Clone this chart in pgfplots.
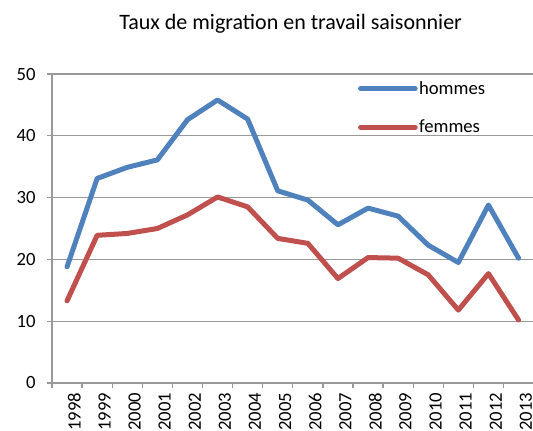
\documentclass[border=0pt]{standalone}
\usepackage{fontspec}
\setmainfont{Carlito}
\usepackage{pgfplots}
\pgfplotsset{compat=1.18}

\definecolor{hommesblue}{HTML}{4F81BD}
\definecolor{femmesred}{HTML}{C0504D}
\definecolor{gridgray}{HTML}{999999}

\begin{document}
\begin{tikzpicture}
\useasboundingbox (-39pt,-35.25pt) rectangle (360.75pt,287.25pt);
\clip (-39pt,-35.25pt) rectangle (360.75pt,287.25pt);
\begin{axis}[
at={(0,0)},anchor=south west,
scale only axis,width=361.2pt,height=231.75pt,
font=\fontsize{14}{16.5}\selectfont,
xmin=-0.5,xmax=15.5,ymin=0,ymax=50,
axis x line*=bottom,axis y line*=left,
axis line style={gridgray,line width=1pt},
tick style={gridgray,line width=1pt},
tick align=outside,major tick length=3.75pt,
ytick={0,10,...,50},
ymajorgrids,grid style={gridgray,line width=1pt},
xtick={-0.5,0.5,...,15.5},
x tick label as interval,
xticklabels={1998,1999,2000,2001,2002,2003,2004,2005,2006,2007,2008,2009,2010,2011,2012,2013},
xticklabel style={rotate=90,anchor=east,yshift=-5.5pt},
yticklabel style={xshift=-5pt},
/pgf/number format/assume math mode=true,
legend style={at={(rel axis cs:0.635,0.982)},anchor=north west,
  draw=none,fill=none,inner sep=0pt,row sep=15.75pt,
  legend cell align=left,
  nodes={inner sep=1pt}},
legend image code/.code={\draw[#1] (0pt,0pt) -- (41pt,0pt);},
every axis plot/.append style={line width=3.75pt,line cap=round,line join=round},
]
\addplot[hommesblue] coordinates {
(0,18.8) (1,33.1) (2,34.9) (3,36.1) (4,42.6) (5,45.8) (6,42.7) (7,31.1)
(8,29.6) (9,25.6) (10,28.3) (11,27.0) (12,22.3) (13,19.5) (14,28.8) (15,20.2)};
\addlegendentry{hommes}
\addplot[femmesred] coordinates {
(0,13.3) (1,23.9) (2,24.2) (3,25.0) (4,27.2) (5,30.1) (6,28.5) (7,23.4)
(8,22.6) (9,16.9) (10,20.3) (11,20.2) (12,17.5) (13,11.8) (14,17.7) (15,10.2)};
\addlegendentry{femmes}
\end{axis}
\node[anchor=base,font=\fontsize{16.5}{19}\selectfont] at (179pt,265.5pt) {Taux de migration en travail saisonnier};
\end{tikzpicture}
\end{document}
